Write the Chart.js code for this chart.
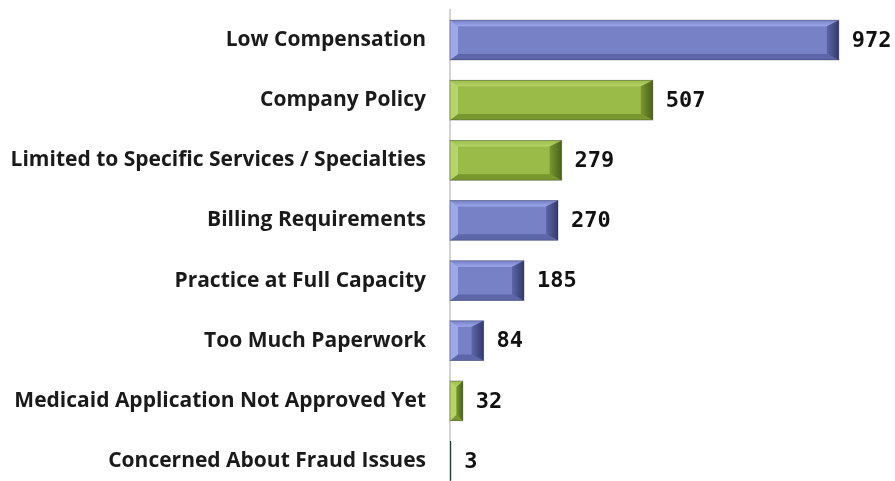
<!DOCTYPE html>
<html>
<head>
<meta charset="utf-8">
<script src="https://cdn.jsdelivr.net/npm/chart.js@4"></script>
<style>
  html, body { margin: 0; padding: 0; background: #fff; overflow: hidden; }
  canvas { display: block; }
</style>
</head>
<body>
<canvas id="reasonsChart" width="895" height="491"></canvas>
<script>
const categories = [
  'Low Compensation',
  'Company Policy',
  'Limited to Specific Services / Specialties',
  'Billing Requirements',
  'Practice at Full Capacity',
  'Too Much Paperwork',
  'Medicaid Application Not Approved Yet',
  'Concerned About Fraud Issues'
];
const counts = [972, 507, 279, 270, 185, 84, 32, 3];
const barGroups = ['blue', 'green', 'green', 'blue', 'blue', 'blue', 'green', 'dark'];

const palette = {
  blue:  { main: '#7781c6', light: '#9ca8ea', shade: '#5c66a8', end: '#343a6a' },
  green: { main: '#9abb48', light: '#b6d46c', shade: '#79972f', end: '#4a621c' },
  dark:  { main: '#1f3b3d', light: '#1f3b3d', shade: '#1f3b3d', end: '#1f3b3d' }
};

document.addEventListener('DOMContentLoaded', function () {
  const ctx = document.getElementById('reasonsChart').getContext('2d');

  // bevel look on each bar + the value next to its end
  const bevelPlugin = {
    id: 'bevel',
    afterDatasetsDraw(chart) {
      const c = chart.ctx;
      const meta = chart.getDatasetMeta(0);
      meta.data.forEach((bar, i) => {
        const col = palette[barGroups[i]];
        const left = bar.base, right = bar.x;
        const top = bar.y - bar.height / 2, bot = bar.y + bar.height / 2;
        const w = right - left;
        const bw = Math.min(12, w / 2), bl = Math.min(8, w / 2), bh = Math.min(6, bar.height / 2);
        const poly = (pts, fill) => {
          c.beginPath();
          c.moveTo(pts[0][0], pts[0][1]);
          pts.slice(1).forEach(p => c.lineTo(p[0], p[1]));
          c.closePath();
          c.fillStyle = fill;
          c.fill();
        };
        c.save();
        if (barGroups[i] !== 'dark') {
          const tg = c.createLinearGradient(0, top, 0, top + bh);
          tg.addColorStop(0, col.main);
          tg.addColorStop(1, col.light);
          poly([[left, top], [right, top], [right - bw, top + bh], [left + bl, top + bh]], tg);
          poly([[left, bot], [right, bot], [right - bw, bot - bh], [left + bl, bot - bh]], col.shade);
          poly([[left, top], [left + bl, top + bh], [left + bl, bot - bh], [left, bot]], col.light);
          const g = c.createLinearGradient(right - bw, 0, right, 0);
          g.addColorStop(0, col.shade);
          g.addColorStop(1, col.end);
          poly([[right, top], [right - bw, top + bh], [right - bw, bot - bh], [right, bot]], g);
          c.strokeStyle = 'rgba(40,40,60,0.35)';
          c.lineWidth = 1;
          c.strokeRect(left, top, w, bot - top);
        }
        c.fillStyle = '#111';
        c.font = 'bold 22px "DejaVu Sans Mono", monospace';
        c.textAlign = 'left';
        c.textBaseline = 'middle';
        c.fillText(String(counts[i]), right + 13, bar.y + 1);
        c.restore();
      });
    }
  };

  new Chart(ctx, {
    type: 'bar',
    data: {
      labels: categories,
      datasets: [{
        data: counts,
        backgroundColor: barGroups.map(g => palette[g].main),
        borderWidth: 0,
        categoryPercentage: 1,
        barPercentage: 0.66
      }]
    },
    options: {
      indexAxis: 'y',
      responsive: false,
      animation: false,
      layout: { autoPadding: false, padding: { top: 10, right: 45, left: 0, bottom: 0 } },
      scales: {
        x: {
          display: false,
          min: 0,
          max: 1000
        },
        y: {
          afterFit: function (scale) {
            scale.width = 450;
            scale.paddingTop = 0;
            scale.paddingBottom = 0;
          },
          grid: { display: false, drawTicks: false },
          border: { display: true, color: '#d4d4d4', width: 2 },
          ticks: {
            padding: 24,
            color: '#1a1a1a',
            font: { family: 'Open Sans', weight: 'bold', size: 21 }
          }
        }
      },
      plugins: {
        legend: { display: false },
        tooltip: { enabled: false }
      }
    },
    plugins: [bevelPlugin]
  });
});
</script>
</body>
</html>
